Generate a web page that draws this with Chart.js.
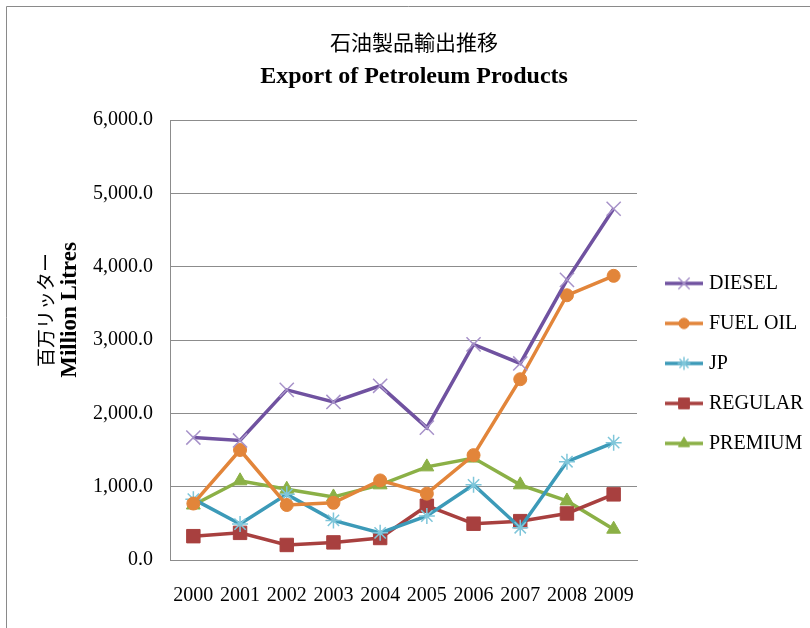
<!DOCTYPE html>
<html>
<head>
<meta charset="utf-8">
<script src="https://cdn.jsdelivr.net/npm/chart.js@4/dist/chart.umd.min.js"></script>
<style>
  html, body { margin: 0; padding: 0; background: #fff; }
</style>
</head>
<body>
<canvas id="chart" width="810" height="628"></canvas>
<script>
// data (million litres)
const years = ['2000', '2001', '2002', '2003', '2004', '2005', '2006', '2007', '2008', '2009'];
const diesel = [1670, 1630, 2320, 2155, 2375, 1805, 2940, 2680, 3820, 4790];
const fuelOil = [770, 1500, 750, 780, 1085, 905, 1430, 2465, 3610, 3875];
const jp = [830, 490, 895, 540, 370, 600, 1025, 440, 1340, 1600];
const regular = [325, 370, 205, 240, 300, 740, 495, 530, 635, 895];
const premium = [750, 1080, 965, 860, 1025, 1270, 1390, 1025, 805, 420];
const seriesNames = ['DIESEL', 'FUEL OIL', 'JP', 'REGULAR', 'PREMIUM'];
const titleJa = '石油製品輸出推移';
const titleEn = 'Export of Petroleum Products';
const yTitleJa = '百万リッター';
const yTitleEn = 'Million Litres';

const serif = '"Liberation Serif", "Times New Roman", serif';
const cjk = '"Noto Sans CJK JP", sans-serif';

// series look: line colour, marker colour, marker style, marker radius
const looks = [
  { line: '#7052a0', mark: '#a792c9', style: 'crossRot', r: 10, bw: 1.5 },
  { line: '#e2853a', mark: '#e2853a', style: 'circle', r: 6.5, bw: 1 },
  { line: '#3c9ab8', mark: '#7fc6da', style: 'star', r: 8, bw: 1.5 },
  { line: '#a8403f', mark: '#a8403f', style: 'rect', r: 9.5, bw: 1 },
  { line: '#8bb046', mark: '#8bb046', style: 'triangle', r: 8, bw: 1 }
];
const values = [diesel, fuelOil, jp, regular, premium];

// legend icon: short line with the marker in the middle
function legendIcon(look) {
  const cv = document.createElement('canvas');
  cv.width = 50; cv.height = 20;
  const c = cv.getContext('2d');
  c.strokeStyle = look.line; c.lineWidth = 3.5;
  c.beginPath(); c.moveTo(12, 10); c.lineTo(50, 10); c.stroke();
  c.fillStyle = look.mark; c.strokeStyle = look.mark; c.lineWidth = look.bw;
  Chart.helpers.drawPoint(c, { pointStyle: look.style, radius: look.r * 0.8, borderWidth: look.bw }, 31, 10);
  return cv;
}
const icons = looks.map(legendIcon);

// frame and the two-line y title
const extras = {
  id: 'extras',
  beforeDraw(chart) {
    const c = chart.ctx;
    c.save();
    c.strokeStyle = '#8a8a8a'; c.lineWidth = 1;
    c.beginPath(); c.moveTo(6.5, 628); c.lineTo(6.5, 6.5); c.lineTo(810, 6.5); c.stroke();
    c.restore();
  },
  afterDraw(chart) {
    const c = chart.ctx;
    c.save();
    c.translate(0, 310);
    c.rotate(-Math.PI / 2);
    c.textAlign = 'center'; c.textBaseline = 'middle'; c.fillStyle = '#000';
    c.font = '19px ' + cjk;
    c.fillText(yTitleJa, 0, 46);
    c.font = 'bold 23px ' + serif;
    c.fillText(yTitleEn, 0, 70);
    c.restore();
  }
};

new Chart(document.getElementById('chart'), {
  type: 'line',
  data: {
    labels: years,
    datasets: seriesNames.map((name, i) => ({
      label: name,
      data: values[i],
      borderColor: looks[i].line,
      backgroundColor: looks[i].line,
      borderWidth: 3.5,
      tension: 0,
      pointStyle: looks[i].style,
      pointRadius: looks[i].r,
      pointBackgroundColor: looks[i].mark,
      pointBorderColor: looks[i].mark,
      pointBorderWidth: looks[i].bw
    }))
  },
  options: {
    responsive: false,
    animation: false,
    layout: { padding: { left: 18, right: 0, top: 0, bottom: 0 } },
    plugins: {
      title: {
        display: true,
        text: titleJa,
        color: '#000',
        font: { family: cjk, size: 21, weight: 'normal' },
        padding: { top: 29, bottom: 8 }
      },
      subtitle: {
        display: true,
        text: titleEn,
        color: '#000',
        font: { family: serif, size: 24, weight: 'bold' },
        padding: { top: 0, bottom: 29 }
      },
      legend: {
        position: 'right',
        align: 'start',
        fullSize: false,
        maxWidth: 173,
        title: { display: true, text: '', padding: { top: 119, bottom: 0 } },
        labels: {
          usePointStyle: true,
          pointStyleWidth: 42,
          padding: 20,
          color: '#000',
          font: { family: serif, size: 20 },
          generateLabels(chart) {
            const items = Chart.defaults.plugins.legend.labels.generateLabels(chart);
            items.forEach((it, i) => { it.pointStyle = icons[i]; });
            return items;
          }
        }
      },
      tooltip: { enabled: false }
    },
    scales: {
      x: {
        offset: true,
        grid: { display: false, drawTicks: false },
        border: { display: true, color: '#8c8c8c' },
        ticks: { color: '#000', padding: 24, font: { family: serif, size: 20 }, maxRotation: 0 },
        afterFit(scale) { scale.height = 68; }
      },
      y: {
        min: 0,
        max: 6000,
        ticks: {
          stepSize: 1000,
          padding: 17,
          color: '#000',
          font: { family: serif, size: 20 },
          callback: v => v.toLocaleString('en-US', { minimumFractionDigits: 1, maximumFractionDigits: 1 })
        },
        grid: { color: '#8c8c8c', drawTicks: false },
        border: { display: true, color: '#8c8c8c' },
        afterFit(scale) { scale.width = 152; }
      }
    }
  },
  plugins: [extras]
});
</script>
</body>
</html>
